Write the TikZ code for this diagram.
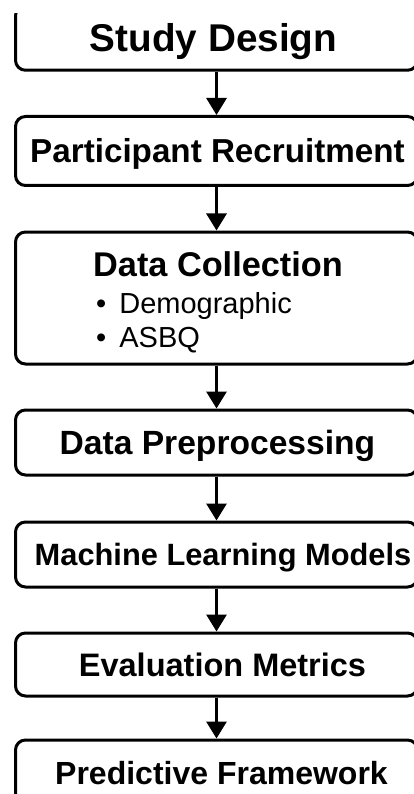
\documentclass[tikz,border=0pt]{standalone}
\usepackage{fontspec}
\setmainfont{Liberation Sans}
\usetikzlibrary{arrows.meta}
\newcommand\fsz[1]{\fontsize{#1pt}{#1pt}\selectfont}
% nudge a centred label sideways by half the given length
\newcommand\nudge[1]{\hspace*{#1}}
\tikzset{
  stage/.style={draw, line width=3pt, rounded corners=10pt, minimum width=402pt,
    inner sep=0pt, align=center, text depth=0pt},
  link/.style={line width=3pt, -{Triangle[width=20pt,length=17pt]}},
  bullet/.style={anchor=base west, inner sep=0pt, font=\fsz{29}},
}
\begin{document}
\begin{tikzpicture}[x=1pt,y=-1pt]
\useasboundingbox (0,0) rectangle (414,794);
\clip (0,0) rectangle (414,794);
% first stage: its top edge lies outside the visible area
\begin{scope}
  \clip (0,14) rectangle (414,794);
  \node[stage, minimum height=64.5pt, text height=27.7pt, font=\bfseries\fsz{38.7}]
    (design) at (216.5,38) {\nudge{-6pt}Study Design};
\end{scope}
\node[stage, minimum height=69pt, text height=23.8pt, font=\bfseries\fsz{33.2}]
  (recruit) at (216.5,151) {\nudge{2pt}Participant Recruitment};
\node[stage, minimum height=132pt] (collect) at (216.5,298) {};
\node[anchor=base, inner sep=0pt, font=\bfseries\fsz{34.3}]
  (collect-title) at (218,276) {Data Collection};
\node[bullet] (item-demo) at (96,313) {•\hspace{0.45em}Demographic};
\node[bullet] (item-asbq) at (96,347) {•\hspace{0.45em}ASBQ};
\node[stage, minimum height=65pt, text height=24pt, font=\bfseries\fsz{33.6}]
  (prep) at (216.5,442.5) {\nudge{2pt}Data Preprocessing};
\node[stage, minimum height=65pt, text height=22.1pt, font=\bfseries\fsz{30.8}]
  (models) at (216.5,554.5) {\nudge{13pt}Machine Learning Models};
\node[stage, minimum height=63pt, text height=23.3pt, font=\bfseries\fsz{32.5}]
  (metrics) at (216.5,664.5) {\nudge{12pt}Evaluation Metrics};
\node[stage, minimum height=66pt, text height=22.9pt, font=\bfseries\fsz{32}]
  (framework) at (216.5,773) {\nudge{10pt}Predictive Framework};
% connectors
\draw[link] (design) -- (recruit);
\draw[link] (recruit) -- (collect);
\draw[link] (collect) -- (prep);
\draw[link] (prep) -- (models);
\draw[link] (models) -- (metrics);
\draw[link] (metrics) -- (framework);
\end{tikzpicture}
\end{document}
